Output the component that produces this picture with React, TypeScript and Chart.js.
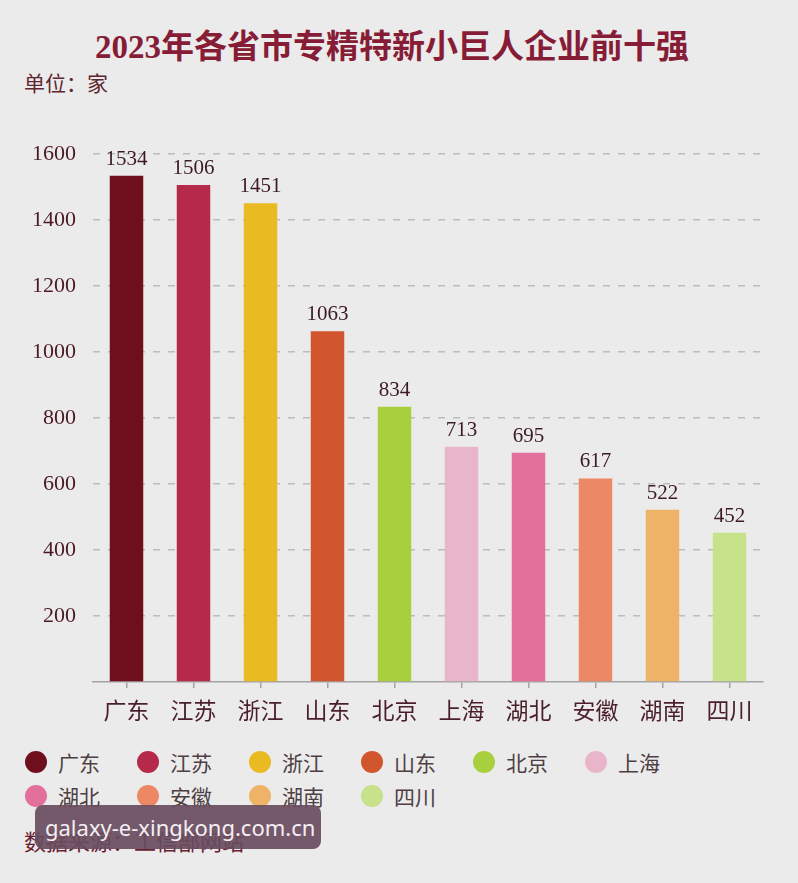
import React, { useEffect, useRef } from "react";
import { Chart, registerables } from "chart.js";

Chart.register(...registerables);

// Top ten provinces/cities by number of "little giant" enterprises, 2023 (unit: 家)
const provinces = ["广东", "江苏", "浙江", "山东", "北京", "上海", "湖北", "安徽", "湖南", "四川"];
const counts = [1534, 1506, 1451, 1063, 834, 713, 695, 617, 522, 452];
const barColors = [
  "#6f0f1d",
  "#b52a4b",
  "#e9ba22",
  "#d1552d",
  "#a7cf3e",
  "#e9b6c9",
  "#e2709a",
  "#ec8964",
  "#efb367",
  "#c8e18b",
];
const yTicks = [0, 200, 400, 600, 800, 1000, 1200, 1400, 1600];

const titleText = "2023年各省市专精特新小巨人企业前十强";
const unitText = "单位：家";
const sourceText = "数据来源：工信部网站";
const watermarkText = "galaxy-e-xingkong.com.cn";

const BG = "#ecebeb";

const valueLabels = {
  id: "valueLabels",
  afterDatasetsDraw(chart: any) {
    const ctx = chart.ctx;
    const meta = chart.getDatasetMeta(0);
    ctx.save();
    ctx.font = '21px "Liberation Serif", "DejaVu Serif", serif';
    ctx.fillStyle = "#3b1a21";
    ctx.textAlign = "center";
    ctx.textBaseline = "alphabetic";
    meta.data.forEach((bar: any, i: number) => {
      ctx.fillText(String(counts[i]), bar.x, bar.y - 11);
    });
    ctx.restore();
  },
};

export default function App() {
  const canvasRef = useRef<HTMLCanvasElement | null>(null);

  useEffect(() => {
    if (!canvasRef.current) return;
    const chart = new Chart(canvasRef.current, {
      type: "bar",
      data: {
        labels: provinces,
        datasets: [
          {
            data: counts,
            backgroundColor: barColors,
            borderWidth: 0,
            barPercentage: 0.5,
            categoryPercentage: 1,
          },
        ],
      },
      options: {
        animation: false,
        responsive: false,
        maintainAspectRatio: false,
        layout: { padding: { top: 34, right: 35, bottom: 0, left: 0 } },
        plugins: {
          legend: { display: false },
          tooltip: { enabled: false },
          title: { display: false },
        },
        scales: {
          x: {
            offset: true,
            grid: {
              offset: false,
              drawOnChartArea: false,
              drawTicks: true,
              tickLength: 6,
              color: "#a3a3a3",
              lineWidth: 1.5,
            },
            border: { display: true, color: "#a3a3a3", width: 1.5 },
            ticks: {
              padding: 8,
              color: "#4a1f2a",
              font: { family: '"Noto Sans CJK SC", sans-serif', size: 23 },
            },
            afterFit(scale: any) {
              scale.height = 48;
            },
          },
          y: {
            min: 0,
            max: 1600,
            afterBuildTicks(scale: any) {
              scale.ticks = yTicks.map((v) => ({ value: v }));
            },
            grid: {
              drawTicks: false,
              color: (c: any) => (c.tick && c.tick.value === 0 ? "rgba(0,0,0,0)" : "#bcbcbc"),
              lineWidth: 1.5,
            },
            border: { display: false, dash: [7, 8] },
            ticks: {
              padding: 17,
              color: "#4a1a24",
              font: { family: '"Liberation Serif", "DejaVu Serif", serif', size: 22 },
              callback: (v: any) => (v === 0 ? "" : String(v)),
            },
            afterFit(scale: any) {
              scale.width = 93;
            },
          },
        },
      },
      plugins: [valueLabels],
    });
    return () => chart.destroy();
  }, []);

  return (
    <div
      style={{
        position: "fixed",
        left: 0,
        top: 0,
        width: 798,
        height: 883,
        background: BG,
        overflow: "hidden",
        fontFamily: '"Noto Sans CJK SC", sans-serif',
      }}
    >
      <div
        style={{
          position: "absolute",
          left: -7,
          top: 25,
          width: 798,
          textAlign: "center",
          fontFamily: '"Liberation Serif", "Noto Sans CJK SC", serif',
          fontWeight: 700,
          fontSize: 33,
          lineHeight: "44px",
          color: "#861c36",
          whiteSpace: "nowrap",
        }}
      >
        {titleText}
      </div>
      <div
        style={{
          position: "absolute",
          left: 24,
          top: 69,
          fontSize: 21,
          lineHeight: "26px",
          color: "#5e2630",
          whiteSpace: "nowrap",
        }}
      >
        {unitText}
      </div>
      <canvas
        ref={canvasRef}
        width={798}
        height={610}
        style={{ position: "absolute", left: 0, top: 120, width: 798, height: 610 }}
      />
      {provinces.map((p, i) => {
        const row = i < 6 ? 0 : 1;
        const col = i < 6 ? i : i - 6;
        const cy = row === 0 ? 762 : 796;
        const left = 25 + col * 112;
        return (
          <div key={p} style={{ position: "absolute", left, top: cy - 14, height: 28, display: "flex", alignItems: "center" }}>
            <div style={{ width: 22, height: 22, borderRadius: "50%", background: barColors[i] }} />
            <div style={{ marginLeft: 11, fontSize: 21, lineHeight: "28px", color: "#4d4044", whiteSpace: "nowrap" }}>{p}</div>
          </div>
        );
      })}
      <div
        style={{
          position: "absolute",
          left: 24,
          top: 826,
          fontSize: 22,
          lineHeight: "28px",
          color: "#6b2030",
          whiteSpace: "nowrap",
        }}
      >
        {sourceText}
      </div>
      <div
        style={{
          position: "absolute",
          left: 35,
          top: 805,
          width: 286,
          height: 44,
          borderRadius: 8,
          background: "rgba(104,76,94,0.92)",
          color: "#f4eef3",
          fontFamily: '"Noto Sans", sans-serif',
          fontSize: 22,
          lineHeight: "44px",
          paddingLeft: 10,
          boxSizing: "border-box",
          whiteSpace: "nowrap",
        }}
      >
        {watermarkText}
      </div>
    </div>
  );
}
